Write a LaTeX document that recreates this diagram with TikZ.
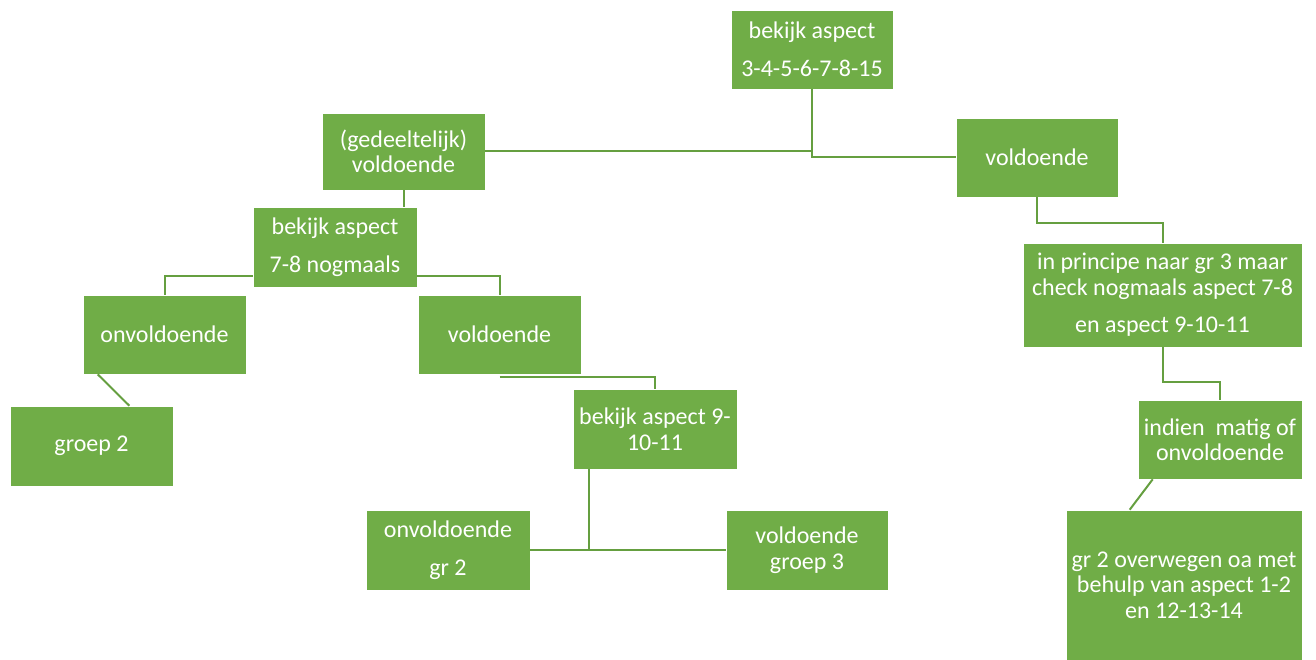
\documentclass[tikz,border=0pt]{standalone}
\usepackage{fontspec}
\setmainfont{Carlito}
\usepackage{tikz}
\definecolor{boxgreen}{HTML}{70AD47}
\definecolor{linkgreen}{HTML}{659F40}

\begin{document}
\begin{tikzpicture}[x=1pt, y=-1pt,
  box/.style={shape=rectangle, fill=boxgreen, draw=white, line width=0.6pt, text=white, align=center, inner sep=0pt, font=\fontsize{24}{25.5}\selectfont},
  link/.style={draw=linkgreen, line width=2pt}]
\useasboundingbox (0,0) rectangle (1316,660);
\node [box, minimum width=162pt, minimum height=79pt] (N1) at (812,49.5) {bekijk aspect\\[13pt]3-4-5-6-7-8-15};
\node [box, minimum width=163pt, minimum height=77pt] (N2) at (403.5,151.5) {(gedeeltelijk)\\voldoende};
\node [box, minimum width=162pt, minimum height=79pt] (N3) at (1037,157.5) {voldoende};
\node [box, minimum width=164pt, minimum height=80pt] (N4) at (335,247) {bekijk aspect\\[13pt]7-8 nogmaals};
\node [box, minimum width=163pt, minimum height=79pt] (N5) at (164.5,334.5) {onvoldoende};
\node [box, minimum width=163pt, minimum height=79pt] (N6) at (499.5,334.5) {voldoende};
\node [box, minimum width=163pt, minimum height=80pt] (N7) at (91.5,446) {groep 2};
\node [box, minimum width=164pt, minimum height=80pt] (N8) at (655,429) {bekijk aspect 9-\\10-11};
\node [box, minimum width=164pt, minimum height=80pt] (N9) at (448,550) {onvoldoende\\[13pt]gr 2};
\node [box, minimum width=162pt, minimum height=80pt] (N10) at (807,550) {voldoende\\groep 3};
\node [box, minimum width=279pt, minimum height=104pt] (N11) at (1162.5,295) {in principe naar gr 3 maar\\check nogmaals aspect 7-8\\[12pt]en aspect 9-10-11};
\node [box, minimum width=164pt, minimum height=79pt] (N12) at (1220,439.5) {indien\ \ matig of\\onvoldoende};
\node [box, minimum width=236pt, minimum height=150pt] (N13) at (1184,585) {gr 2 overwegen oa met\\behulp van aspect 1-2\\en 12-13-14};

\draw [link] (N1) |- (N2);
\draw [link] (N1) |- (N3);
\draw [link] (N2.south) -- (N2.south |- N4.north);
\draw [link] ([yshift=-29pt]N4.west) -| (N5.north);
\draw [link] ([yshift=-29pt]N4.east) -| (N6.north);
\draw [link] ([xshift=15pt]N5.south west) -- ([xshift=-44pt]N7.north east);
\draw [link] ([yshift=-3pt]N6.south) -| (N8.north);
\draw [link] ([xshift=-66pt]N8.south) |- (N9.east);
\draw [link] ([xshift=-66pt]N8.south) |- (N10.west);
\draw [link] (N3.south) -- ++(0,26) -| (N11.north);
\draw [link] (N11.south) -- ++(0,35) -| (N12.north);
\draw [link] ([xshift=15pt]N12.south west) -- ([xshift=64pt]N13.north west);
\end{tikzpicture}
\end{document}
